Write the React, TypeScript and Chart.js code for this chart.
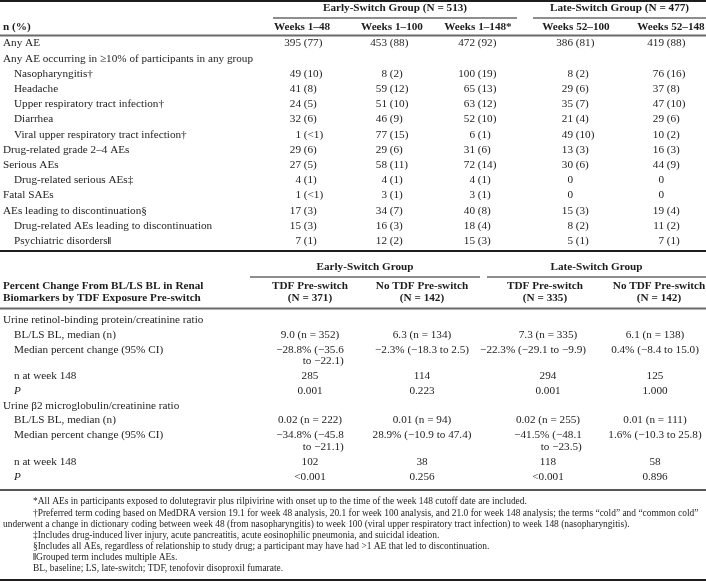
import React, { useEffect, useRef } from "react";
import { Chart, registerables } from "chart.js";

Chart.register(...registerables);

// ---------------- DATA ----------------
const groupHeadersAE = ["Early-Switch Group (N = 513)", "Late-Switch Group (N = 477)"];
const periodLabels = ["Weeks 1–48", "Weeks 1–100", "Weeks 1–148*", "Weeks 52–100", "Weeks 52–148"];
const aeLabels = [
  "Any AE",
  "Any AE occurring in ≥10% of participants in any group",
  "Nasopharyngitis†",
  "Headache",
  "Upper respiratory tract infection†",
  "Diarrhea",
  "Viral upper respiratory tract infection†",
  "Drug-related grade 2–4 AEs",
  "Serious AEs",
  "Drug-related serious AEs‡",
  "Fatal SAEs",
  "AEs leading to discontinuation§",
  "Drug-related AEs leading to discontinuation",
  "Psychiatric disorders‖",
];
const aeIndent = [0, 0, 1, 1, 1, 1, 1, 0, 0, 1, 0, 0, 1, 1];
const earlyWeeks1to48 = ["395 (77)", "", "49 (10)", "41 (8)", "24 (5)", "32 (6)", "1 (<1)", "29 (6)", "27 (5)", "4 (1)", "1 (<1)", "17 (3)", "15 (3)", "7 (1)"];
const earlyWeeks1to100 = ["453 (88)", "", "8 (2)", "59 (12)", "51 (10)", "46 (9)", "77 (15)", "29 (6)", "58 (11)", "4 (1)", "3 (1)", "34 (7)", "16 (3)", "12 (2)"];
const earlyWeeks1to148 = ["472 (92)", "", "100 (19)", "65 (13)", "63 (12)", "52 (10)", "6 (1)", "31 (6)", "72 (14)", "4 (1)", "3 (1)", "40 (8)", "18 (4)", "15 (3)"];
const lateWeeks52to100 = ["386 (81)", "", "8 (2)", "29 (6)", "35 (7)", "21 (4)", "49 (10)", "13 (3)", "30 (6)", "0", "0", "15 (3)", "8 (2)", "5 (1)"];
const lateWeeks52to148 = ["419 (88)", "", "76 (16)", "37 (8)", "47 (10)", "29 (6)", "10 (2)", "16 (3)", "44 (9)", "0", "0", "19 (4)", "11 (2)", "7 (1)"];

const renalTitle = ["Percent Change From BL/LS BL in Renal", "Biomarkers by TDF Exposure Pre-switch"];
const groupHeadersRenal = ["Early-Switch Group", "Late-Switch Group"];
const exposureLabels = [
  ["TDF Pre-switch", "(N = 371)"],
  ["No TDF Pre-switch", "(N = 142)"],
  ["TDF Pre-switch", "(N = 335)"],
  ["No TDF Pre-switch", "(N = 142)"],
];
const renalLabels = [
  "Urine retinol-binding protein/creatinine ratio",
  "BL/LS BL, median (n)",
  "Median percent change (95% CI)",
  "n at week 148",
  "P",
  "Urine β2 microglobulin/creatinine ratio",
  "BL/LS BL, median (n)",
  "Median percent change (95% CI)",
  "n at week 148",
  "P",
];
const renalIndent = [0, 1, 1, 1, 1, 0, 1, 1, 1, 1];
const earlyTdfPre = ["", "9.0 (n = 352)", "−28.8% (−35.6|to −22.1)", "285", "0.001", "", "0.02 (n = 222)", "−34.8% (−45.8|to −21.1)", "102", "<0.001"];
const earlyNoTdfPre = ["", "6.3 (n = 134)", "−2.3% (−18.3 to 2.5)", "114", "0.223", "", "0.01 (n = 94)", "28.9% (−10.9 to 47.4)", "38", "0.256"];
const lateTdfPre = ["", "7.3 (n = 335)", "−22.3% (−29.1 to −9.9)", "294", "0.001", "", "0.02 (n = 255)", "−41.5% (−48.1|to −23.5)", "118", "<0.001"];
const lateNoTdfPre = ["", "6.1 (n = 138)", "0.4% (−8.4 to 15.0)", "125", "1.000", "", "0.01 (n = 111)", "1.6% (−10.3 to 25.8)", "58", "0.896"];

const footnotes = [
  "*All AEs in participants exposed to dolutegravir plus rilpivirine with onset up to the time of the week 148 cutoff date are included.",
  "†Preferred term coding based on MedDRA version 19.1 for week 48 analysis, 20.1 for week 100 analysis, and 21.0 for week 148 analysis; the terms “cold” and “common cold”",
  "underwent a change in dictionary coding between week 48 (from nasopharyngitis) to week 100 (viral upper respiratory tract infection) to week 148 (nasopharyngitis).",
  "‡Includes drug-induced liver injury, acute pancreatitis, acute eosinophilic pneumonia, and suicidal ideation.",
  "§Includes all AEs, regardless of relationship to study drug; a participant may have had >1 AE that led to discontinuation.",
  "‖Grouped term includes multiple AEs.",
  "BL, baseline; LS, late-switch; TDF, tenofovir disoproxil fumarate.",
];
const footnoteContinued = [false, false, true, false, false, false, false];

// ---------------- LAYOUT / STYLE ----------------
const W = 706;
const H = 582;
const FONT = '"Liberation Serif", "Times New Roman", serif';
const INK = "#1f1c1d";
const GREY = "#6a6a6a";
const BODY = 11.2;
const HEAD = 11.2;
const NOTE = 9.45;

const L = {
  labelX: 3,
  indentX: 14,
  // AE table
  topRule: 1,
  aeGroupY: 8,
  aeGroupUnder: 18,
  aeGroupSpans: [[273, 517], [533, 706]],
  aeHeadY: 27,
  aeHeadCenters: [302, 392, 478, 576, 671],
  aeHeadRule: 35.5,
  aeAnchors: [301, 387, 475, 573, 664],
  aeRow0: 43.5,
  aeStep: 15.2,
  aeEndRule: 251,
  // renal table
  rnGroupY: 267.5,
  rnGroupUnder: 277,
  rnGroupSpans: [[250, 480], [487, 706]],
  rnHeadY: [286, 298],
  rnHeadCenters: [310, 422, 545, 659],
  rnHeadRule: 308.5,
  rnCenters: [310, 422, 548, 655],
  rnColRight: [356, 472, 586, 704],
  rnRow0: 320,
  rnStep: 14.8,
  rnWrap: 11.7,
  rnEndRule: 490,
  noteY0: 502,
  noteStep: 11.1,
  noteIndentX: 33,
  bottomRule: 580,
};

const aeColumns = [earlyWeeks1to48, earlyWeeks1to100, earlyWeeks1to148, lateWeeks52to100, lateWeeks52to148];
const renalColumns = [earlyTdfPre, earlyNoTdfPre, lateTdfPre, lateNoTdfPre];

const tablePlugin = {
  id: "tableDraw",
  afterDraw(chart: any) {
    const ctx: CanvasRenderingContext2D = chart.ctx;
    const xs = chart.scales.x;
    const ys = chart.scales.y;
    const X = (v: number) => xs.getPixelForValue(v);
    const Y = (v: number) => ys.getPixelForValue(v);

    const rule = (y: number, x0: number, x1: number, w: number, color: string) => {
      ctx.save();
      ctx.strokeStyle = color;
      ctx.lineWidth = w;
      ctx.beginPath();
      ctx.moveTo(X(x0), Y(y));
      ctx.lineTo(X(x1), Y(y));
      ctx.stroke();
      ctx.restore();
    };
    const font = (size: number, bold = false, italic = false) =>
      `${italic ? "italic " : ""}${bold ? "bold " : ""}${size}px ${FONT}`;
    const text = (s: string, x: number, y: number, align: CanvasTextAlign, f: string) => {
      ctx.font = f;
      ctx.textAlign = align;
      ctx.textBaseline = "middle";
      ctx.fillStyle = INK;
      ctx.fillText(s, X(x), Y(y));
    };
    // label with a bold trailing double-bar mark if present
    const label = (s: string, x: number, y: number, f: string, fb: string) => {
      if (s.endsWith("‖")) {
        const base = s.slice(0, -1);
        text(base, x, y, "left", f);
        ctx.font = f;
        const w = ctx.measureText(base).width;
        text("‖", x + w, y, "left", fb);
      } else if (s.startsWith("‖")) {
        text("‖", x, y, "left", fb);
        ctx.font = fb;
        const w = ctx.measureText("‖").width;
        text(s.slice(1), x + w, y, "left", f);
      } else {
        text(s, x, y, "left", f);
      }
    };

    ctx.save();
    // ---------- AE table ----------
    rule(L.topRule, 0, W, 2, INK);
    groupHeadersAE.forEach((g, i) => {
      const [a, b] = L.aeGroupSpans[i];
      text(g, (a + b) / 2, L.aeGroupY, "center", font(HEAD, true));
      rule(L.aeGroupUnder, a, b, 1, INK);
    });
    text("n (%)", L.labelX, L.aeHeadY, "left", font(HEAD, true));
    periodLabels.forEach((p, i) => text(p, L.aeHeadCenters[i], L.aeHeadY, "center", font(HEAD, true)));
    rule(L.aeHeadRule, 0, W, 2, GREY);

    aeLabels.forEach((lab, r) => {
      const y = L.aeRow0 + r * L.aeStep;
      label(lab, aeIndent[r] ? L.indentX : L.labelX, y, font(BODY), font(BODY, true));
      aeColumns.forEach((col, c) => {
        const v = col[r];
        if (!v) return;
        const k = v.indexOf(" (");
        const ax = L.aeAnchors[c];
        if (k < 0) {
          text(v, ax, y, "right", font(BODY));
        } else {
          text(v.slice(0, k), ax, y, "right", font(BODY));
          text(v.slice(k), ax, y, "left", font(BODY));
        }
      });
    });
    rule(L.aeEndRule, 0, W, 2, INK);

    // ---------- Renal table ----------
    groupHeadersRenal.forEach((g, i) => {
      const [a, b] = L.rnGroupSpans[i];
      text(g, (a + b) / 2, L.rnGroupY, "center", font(HEAD, true));
      rule(L.rnGroupUnder, a, b, 1, INK);
    });
    renalTitle.forEach((t, i) => text(t, L.labelX, L.rnHeadY[i], "left", font(HEAD, true)));
    exposureLabels.forEach((pair, c) =>
      pair.forEach((t, i) => text(t, L.rnHeadCenters[c], L.rnHeadY[i], "center", font(HEAD, true)))
    );
    rule(L.rnHeadRule, 0, W, 2, GREY);

    let y = L.rnRow0;
    renalLabels.forEach((lab, r) => {
      const isP = lab === "P";
      text(lab, renalIndent[r] ? L.indentX : L.labelX, y, "left", font(BODY, false, isP));
      let wrapped = false;
      renalColumns.forEach((col, c) => {
        const v = col[r];
        if (!v) return;
        const parts = v.split("|");
        ctx.font = font(BODY);
        const w0 = ctx.measureText(parts[0]).width;
        let left = L.rnCenters[c] - w0 / 2;
        left = Math.min(left, L.rnColRight[c] - w0);
        text(parts[0], left, y, "left", font(BODY));
        if (parts.length > 1) {
          wrapped = true;
          text(parts[1], left + w0, y + L.rnWrap, "right", font(BODY));
        }
      });
      y += L.rnStep + (wrapped ? L.rnWrap : 0);
    });
    rule(L.rnEndRule, 0, W, 1.5, INK);

    // ---------- Footnotes ----------
    footnotes.forEach((n, i) => {
      label(n, footnoteContinued[i] ? L.labelX : L.noteIndentX, L.noteY0 + i * L.noteStep, font(NOTE), font(NOTE, true));
    });
    rule(L.bottomRule, 0, W, 2, INK);
    ctx.restore();
  },
};

export default function App() {
  const ref = useRef<HTMLCanvasElement | null>(null);
  useEffect(() => {
    document.body.style.margin = "0";
    if (!ref.current) return;
    const chart = new Chart(ref.current, {
      type: "scatter",
      data: { datasets: [] },
      options: {
        responsive: false,
        maintainAspectRatio: false,
        animation: false,
        devicePixelRatio: 1,
        layout: { padding: 0 },
        events: [],
        scales: {
          x: { type: "linear", min: 0, max: W, display: false },
          y: { type: "linear", min: 0, max: H, reverse: true, display: false },
        },
        plugins: { legend: { display: false }, tooltip: { enabled: false }, title: { display: false } },
      },
      plugins: [tablePlugin],
    });
    return () => chart.destroy();
  }, []);
  return (
    <div style={{ position: "absolute", left: 0, top: 0, width: W, height: H, background: "#fff" }}>
      <canvas ref={ref} width={W} height={H} style={{ display: "block", width: W, height: H }} />
    </div>
  );
}
